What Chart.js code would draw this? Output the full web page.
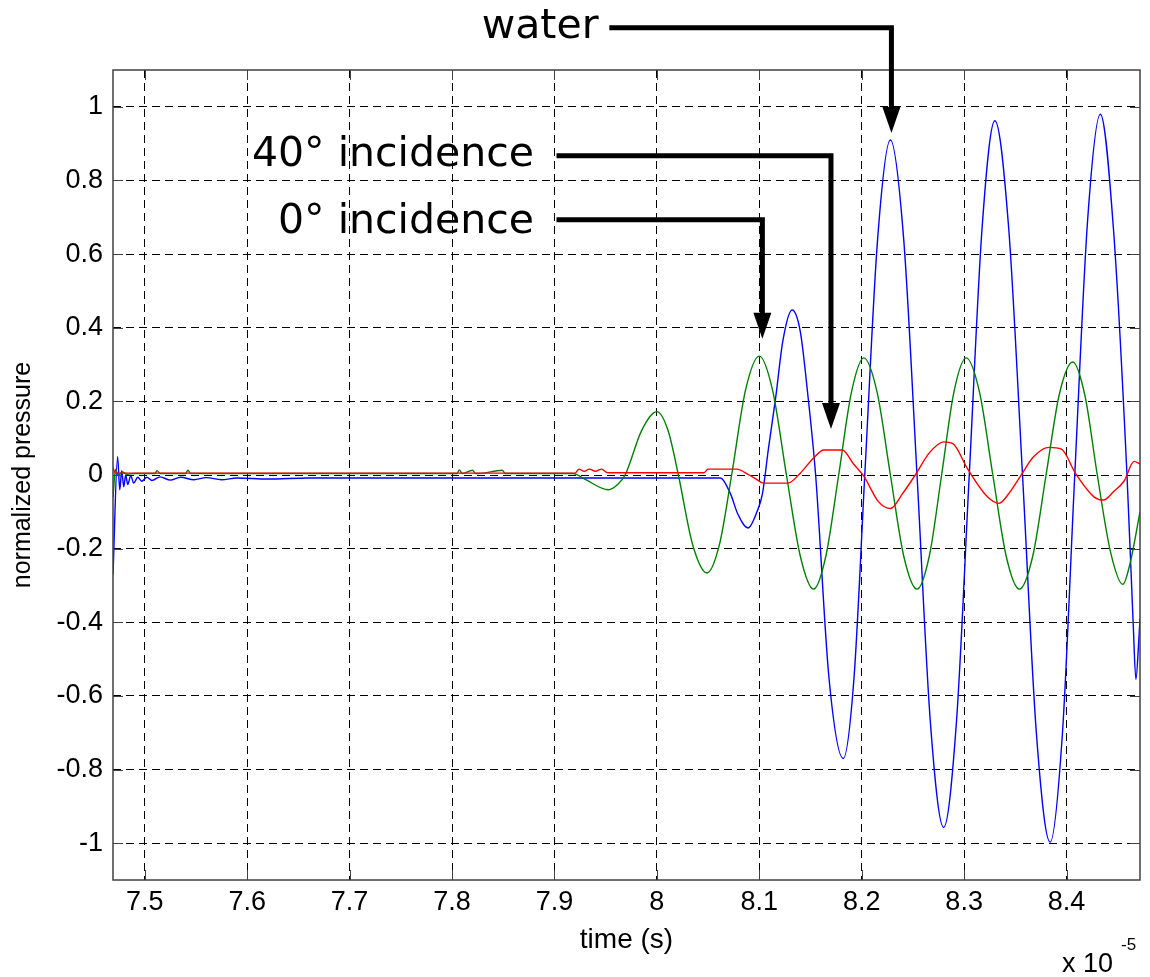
<!DOCTYPE html>
<html>
<head>
<meta charset="utf-8">
<title>normalized pressure</title>
<script src="https://cdn.jsdelivr.net/npm/chart.js@4.4.1/dist/chart.umd.min.js"></script>
<style>
  html, body { margin: 0; padding: 0; background: #fff; }
  #chart { display: block; }
</style>
</head>
<body>
<canvas id="chart" width="1150" height="977"></canvas>
<script>
// time axis is in units of 1e-5 s
const xTicks = [7.5, 7.6, 7.7, 7.8, 7.9, 8, 8.1, 8.2, 8.3, 8.4];
const yTicks = [-1, -0.8, -0.6, -0.4, -0.2, 0, 0.2, 0.4, 0.6, 0.8, 1];

// water (blue)
const waterT = [7.469, 7.4735, 7.4756, 7.4775, 7.4795, 7.4814, 7.4834, 7.4863, 7.4892, 7.4932, 7.497,
  7.502, 7.507, 7.515, 7.525, 7.535, 7.548, 7.56, 7.575, 7.59, 7.62, 7.66, 8.062,
  8.072, 8.079, 8.089, 8.098, 8.103, 8.109, 8.116, 8.123, 8.132, 8.140, 8.147, 8.155,
  8.168, 8.182, 8.1925, 8.203, 8.2155, 8.228, 8.241, 8.254, 8.267, 8.280, 8.2925, 8.305,
  8.3175, 8.330, 8.3435, 8.357, 8.3705, 8.384, 8.396, 8.408, 8.4205, 8.433, 8.446, 8.459,
  8.465, 8.4677, 8.4705, 8.4717];
const waterP = [-0.27, 0.05, -0.04, 0.012, -0.032, 0.0, -0.026, -0.002, -0.022, -0.006, -0.017,
  -0.006, -0.015, -0.005, -0.014, -0.006, -0.013, -0.007, -0.013, -0.008, -0.011, -0.008, -0.008,
  -0.052, -0.106, -0.144, -0.098, -0.052, 0.073, 0.21, 0.364, 0.448, 0.39, 0.228, 0.0,
  -0.55, -0.77, -0.55, 0.0, 0.64, 0.91, 0.64, 0.0, -0.67, -0.957, -0.67, 0.0,
  0.67, 0.962, 0.67, 0.0, -0.70, -0.997, -0.70, 0.0, 0.69, 0.98, 0.66, 0.0,
  -0.40, -0.555, -0.45, -0.39];

// 0 deg incidence (green)
const deg0T = [7.469, 7.4715, 7.474, 7.478, 7.483, 7.49, 7.51, 7.512, 7.515, 7.54, 7.542, 7.545,
  7.805, 7.807, 7.81, 7.82, 7.823, 7.826, 7.849, 7.852, 7.918, 7.93, 7.9526, 7.962, 7.969,
  7.985, 8.000, 8.011, 8.021, 8.035, 8.049, 8.061, 8.073, 8.0865, 8.100, 8.113, 8.1265,
  8.140, 8.153, 8.165, 8.1775, 8.19, 8.202, 8.215, 8.228, 8.241, 8.254, 8.266, 8.278,
  8.29, 8.302, 8.315, 8.328, 8.341, 8.354, 8.367, 8.38, 8.393, 8.406, 8.418, 8.43,
  8.443, 8.455, 8.462, 8.4717];
const deg0P = [-0.06, 0.015, 0.0, 0.008, 0.002, 0.004, 0.004, 0.012, 0.004, 0.004, 0.013, 0.004,
  0.004, 0.014, 0.004, 0.013, 0.004, 0.004, 0.013, 0.004, 0.004, -0.012, -0.04, -0.025, 0.0,
  0.12, 0.172, 0.12, 0.0, -0.19, -0.266, -0.19, 0.0, 0.23, 0.323, 0.23, 0.0,
  -0.22, -0.31, -0.22, 0.0, 0.225, 0.318, 0.225, 0.0, -0.22, -0.31, -0.22, 0.0,
  0.225, 0.318, 0.225, 0.0, -0.22, -0.31, -0.22, 0.0, 0.22, 0.307, 0.215, 0.0,
  -0.21, -0.297, -0.24, -0.10];

// 40 deg incidence (red)
const deg40T = [7.469, 7.4715, 7.92, 7.924, 7.929, 7.934, 7.94, 7.946, 7.952, 8.046, 8.05, 8.078,
  8.09, 8.098, 8.104, 8.128, 8.140, 8.153, 8.163, 8.181, 8.192, 8.202, 8.2165, 8.228, 8.24,
  8.253, 8.266, 8.28, 8.289, 8.3035, 8.323, 8.334, 8.345, 8.355, 8.368, 8.383, 8.395,
  8.409, 8.427, 8.436, 8.446, 8.456, 8.466, 8.4717];
const deg40P = [0.02, 0.005, 0.005, 0.016, 0.01, 0.016, 0.01, 0.016, 0.006, 0.006, 0.016, 0.016,
  0.0, -0.013, -0.022, -0.022, 0.005, 0.046, 0.068, 0.068, 0.03, -0.003, -0.073, -0.091, -0.05,
  0.003, 0.06, 0.09, 0.085, 0.016, -0.06, -0.077, -0.045, -0.003, 0.05, 0.075, 0.07,
  0.003, -0.06, -0.068, -0.045, -0.017, 0.037, 0.03];

// arrow labels, positions in data units
const annoLabels = ['water', '40° incidence', '0° incidence'];
const annoTextX = [7.943, 7.880, 7.880];
const annoTextY = [1.1875, 0.840, 0.658];
const annoLineX = [7.9536, 7.902, 7.902];
const annoElbowY = [1.215, 0.867, 0.693];
const annoTipX = [8.229, 8.170, 8.103];
const annoTipY = [0.929, 0.125, 0.37];

const AXIS_FONT = 'Liberation Sans, Arial, sans-serif';

function toPoints(ts, ps) {
  return ts.map((t, i) => ({ x: t, y: ps[i] }));
}

function fmt(v) {
  return String(Math.round(v * 10) / 10);
}

const frame = {
  id: 'frame',
  afterDatasetsDraw(chart) {
    const { ctx, chartArea: a, scales } = chart;
    ctx.save();
    ctx.strokeStyle = '#404040';
    ctx.lineWidth = 1.5;
    ctx.strokeRect(a.left, a.top, a.right - a.left, a.bottom - a.top);
    // inward ticks on every side
    ctx.lineWidth = 1;
    ctx.beginPath();
    xTicks.forEach((v) => {
      const px = Math.round(scales.x.getPixelForValue(v)) + 0.5;
      ctx.moveTo(px, a.bottom); ctx.lineTo(px, a.bottom - 10);
      ctx.moveTo(px, a.top); ctx.lineTo(px, a.top + 10);
    });
    yTicks.forEach((v) => {
      const py = Math.round(scales.y.getPixelForValue(v)) + 0.5;
      ctx.moveTo(a.left, py); ctx.lineTo(a.left + 10, py);
      ctx.moveTo(a.right, py); ctx.lineTo(a.right - 10, py);
    });
    ctx.stroke();
    ctx.restore();
  },
  afterDraw(chart) {
    const { ctx, scales } = chart;
    const sx = (v) => scales.x.getPixelForValue(v);
    const sy = (v) => scales.y.getPixelForValue(v);
    ctx.save();
    // x 10^-5 multiplier
    ctx.fillStyle = '#000';
    ctx.textBaseline = 'alphabetic';
    ctx.textAlign = 'left';
    ctx.font = '27px ' + AXIS_FONT;
    ctx.fillText('x 10', 1062, 972);
    ctx.font = '17px ' + AXIS_FONT;
    ctx.fillText('-5', 1121, 950);

    // annotations with elbow arrows
    ctx.font = '41px "DejaVu Sans", Verdana, sans-serif';
    ctx.textAlign = 'right';
    ctx.strokeStyle = '#000';
    ctx.lineWidth = 5;
    annoLabels.forEach((label, i) => {
      ctx.fillText(label, sx(annoTextX[i]), sy(annoTextY[i]));
      const x0 = sx(annoLineX[i]);
      const yE = sy(annoElbowY[i]);
      const xT = sx(annoTipX[i]);
      const yT = sy(annoTipY[i]);
      ctx.beginPath();
      ctx.moveTo(x0, yE);
      ctx.lineTo(xT, yE);
      ctx.lineTo(xT, yT - 20);
      ctx.stroke();
      ctx.beginPath();
      ctx.moveTo(xT, yT);
      ctx.lineTo(xT - 9, yT - 26);
      ctx.lineTo(xT + 9, yT - 26);
      ctx.closePath();
      ctx.fill();
    });
    ctx.restore();
  },
};

const lineStyle = {
  borderWidth: 1.4,
  pointRadius: 0,
  fill: false,
  cubicInterpolationMode: 'monotone',
};

new Chart(document.getElementById('chart'), {
  type: 'line',
  data: {
    datasets: [
      { ...lineStyle, label: '40° incidence', data: toPoints(deg40T, deg40P), borderColor: '#ff0000' },
      { ...lineStyle, label: '0° incidence', data: toPoints(deg0T, deg0P), borderColor: '#008000' },
      { ...lineStyle, label: 'water', data: toPoints(waterT, waterP), borderColor: '#0000ff' },
    ],
  },
  options: {
    responsive: false,
    devicePixelRatio: 1,
    animation: false,
    events: [],
    layout: { padding: { left: 0, top: 70, right: 10, bottom: 0 } },
    plugins: { legend: { display: false }, tooltip: { enabled: false } },
    scales: {
      x: {
        type: 'linear',
        min: 7.469,
        max: 8.4717,
        afterFit: (s) => { s.height = 97; },
        afterBuildTicks: (s) => { s.ticks = xTicks.map((v) => ({ value: v })); },
        ticks: {
          callback: (v) => fmt(v),
          color: '#000',
          padding: 6,
          maxRotation: 0,
          autoSkip: false,
          font: { family: AXIS_FONT, size: 27 },
        },
        grid: { color: '#000', lineWidth: 1, drawTicks: false },
        border: { display: false, dash: [8, 5] },
        title: {
          display: true,
          text: 'time (s)',
          color: '#000',
          padding: { top: 0, bottom: 20 },
          font: { family: AXIS_FONT, size: 28 },
        },
      },
      y: {
        min: -1.1,
        max: 1.1,
        afterFit: (s) => { s.width = 113; },
        afterBuildTicks: (s) => { s.ticks = yTicks.map((v) => ({ value: v })); },
        ticks: {
          callback: (v) => fmt(v),
          color: '#000',
          padding: 10,
          font: { family: AXIS_FONT, size: 27 },
        },
        grid: { color: '#000', lineWidth: 1, drawTicks: false },
        border: { display: false, dash: [8, 5] },
        title: {
          display: true,
          text: 'normalized pressure',
          color: '#000',
          padding: { top: 8, bottom: 0 },
          font: { family: AXIS_FONT, size: 25 },
        },
      },
    },
  },
  plugins: [frame],
});
</script>
</body>
</html>
